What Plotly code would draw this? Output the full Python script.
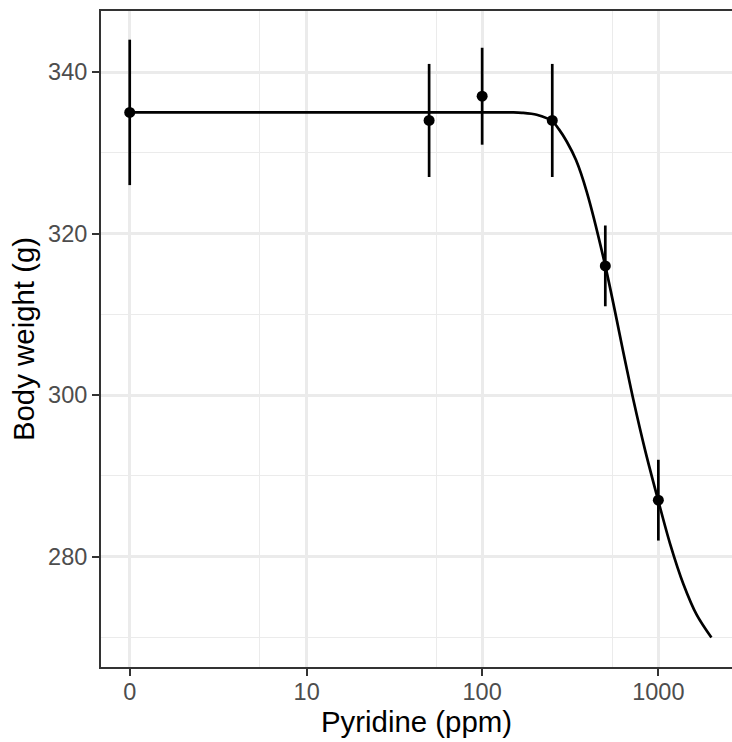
import numpy as np
import plotly.graph_objects as go

# Observed data (Pyridine dose in ppm, body weight in g)
dose = [0, 50, 100, 250, 500, 1000]
weight_mean = [335, 334, 337, 334, 316, 287]
weight_lower = [326, 327, 331, 327, 311, 282]
weight_upper = [344, 341, 343, 341, 321, 292]

# Fitted curve
curve_dose = [0, 10, 100, 150, 168, 204, 250, 273, 302, 341, 392, 500, 647,
              722, 841, 1000, 1166, 1388, 1652, 2000]
curve_weight = [335.0, 335.0, 335.0, 335.0, 334.95, 334.7, 333.9, 332.9, 331.4,
                329.1, 325.2, 316.0, 304.3, 299.4, 293.2, 286.9, 281.6, 276.6,
                272.8, 270.0]

x_breaks = [0, 10, 100, 1000]
x_labels = ["0", "10", "100", "1000"]
x_minor = [5.3, 55, 550]
y_breaks = [280, 300, 320, 340]
y_minor = [270, 290, 310, 330]


def pseudo_log(v):
    # pseudo-log (base 10, sigma 1) scale transform
    return np.arcsinh(np.asarray(v, dtype=float) / 2.0) / np.log(10)


FONT = "Liberation Sans, Arial, sans-serif"

fig = go.Figure()
fig.add_trace(go.Scatter(
    x=pseudo_log(curve_dose), y=curve_weight, mode="lines",
    line=dict(color="black", width=2.7, shape="spline", smoothing=0.9),
    hoverinfo="skip", showlegend=False,
))
mean = np.array(weight_mean, dtype=float)
fig.add_trace(go.Scatter(
    x=pseudo_log(dose), y=mean, mode="markers",
    marker=dict(color="black", size=11),
    error_y=dict(type="data", symmetric=False,
                 array=np.array(weight_upper) - mean,
                 arrayminus=mean - np.array(weight_lower),
                 color="black", thickness=2.7, width=0),
    showlegend=False,
))

fig.update_layout(
    width=732, height=742,
    margin=dict(l=101, r=0, t=11, b=75),
    paper_bgcolor="white", plot_bgcolor="white",
    font=dict(family=FONT),
)
fig.update_xaxes(
    range=[-0.163, 3.418],
    tickmode="array", tickvals=pseudo_log(x_breaks), ticktext=x_labels,
    showgrid=True, gridcolor="#EBEBEB", gridwidth=2.7,
    minor=dict(tickvals=pseudo_log(x_minor), showgrid=True,
               gridcolor="#EBEBEB", gridwidth=1.35, ticks=""),
    zeroline=False,
    showline=True, linecolor="#333333", linewidth=2, mirror=True,
    ticks="outside", ticklen=7, tickwidth=2, tickcolor="#333333",
    ticklabelstandoff=-4,
    tickfont=dict(family=FONT, size=23.5, color="#4D4D4D"),
    title=dict(text="Pyridine (ppm)", font=dict(family=FONT, size=29.4, color="black"),
               standoff=5),
)
fig.update_yaxes(
    range=[266.35, 347.55],
    tickmode="array", tickvals=y_breaks, ticktext=[str(v) for v in y_breaks],
    showgrid=True, gridcolor="#EBEBEB", gridwidth=2.7,
    minor=dict(tickvals=y_minor, showgrid=True,
               gridcolor="#EBEBEB", gridwidth=1.35, ticks=""),
    zeroline=False,
    showline=True, linecolor="#333333", linewidth=2,
    ticks="outside", ticklen=7, tickwidth=2, tickcolor="#333333",
    tickfont=dict(family=FONT, size=23.5, color="#4D4D4D"),
    title=dict(text="Body weight (g)", font=dict(family=FONT, size=29.4, color="black"),
               standoff=5),
)

fig.write_html("out.html", config={"displayModeBar": False},
               post_script="document.body.style.margin='0';document.body.style.overflow='hidden';")
